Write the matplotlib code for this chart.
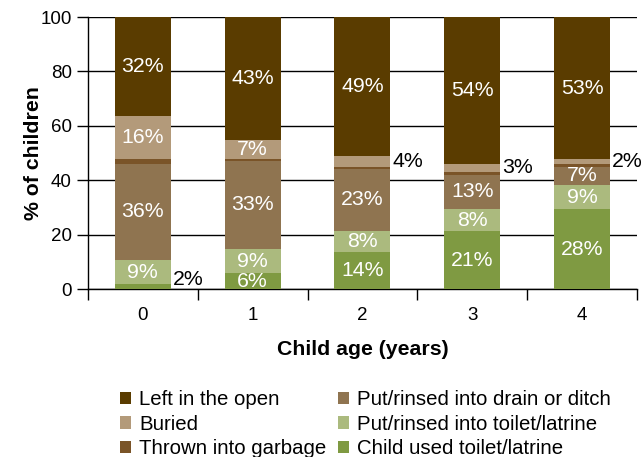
import matplotlib.pyplot as plt
import numpy as np

plt.rcParams['font.family'] = ['Liberation Sans', 'DejaVu Sans']

ages = ['0', '1', '2', '3', '4']

##### segment heights (bottom to top), % of children
child_used = [1.8, 5.8, 13.6, 21.3, 29.4]
into_toilet = [8.9, 8.9, 7.7, 8.1, 8.8]
into_drain = [35.4, 32.4, 22.9, 12.6, 6.8]
garbage = [1.6, 0.6, 0.8, 1.0, 1.0]
buried = [15.8, 7.1, 3.9, 3.0, 1.7]
left_open = [36.5, 45.2, 51.1, 54.0, 52.3]

##### printed labels
child_lbl = ['2%', '6%', '14%', '21%', '28%']
toilet_lbl = ['9%', '9%', '8%', '8%', '9%']
drain_lbl = ['36%', '33%', '23%', '13%', '7%']
buried_lbl = ['16%', '7%', '4%', '3%', '2%']
open_lbl = ['32%', '43%', '49%', '54%', '53%']

series = [
    ('Child used toilet/latrine', child_used, '#7f9a42', child_lbl),
    ('Put/rinsed into toilet/latrine', into_toilet, '#abba7e', toilet_lbl),
    ('Put/rinsed into drain or ditch', into_drain, '#8f7450', drain_lbl),
    ('Thrown into garbage', garbage, '#7a5428', None),
    ('Buried', buried, '#b39a7a', buried_lbl),
    ('Left in the open', left_open, '#5a3c00', open_lbl),
]

# small segments labelled outside the bar: (series index, bar index) -> y
outside = {(0, 0): 3.5, (4, 2): None, (4, 3): None, (4, 4): None}

fig = plt.figure(figsize=(6.44, 4.57), dpi=100)
ax = fig.add_axes([0.1366, 0.3676, 0.8524, 0.5952])

x = np.arange(len(ages))
w = 0.51
fs = 15.3
bottom = np.zeros(len(ages))
bars = {}
for i, (name, vals, col, lbls) in enumerate(series):
    vals = np.array(vals)
    bars[name] = ax.bar(x, vals, w, bottom=bottom, color=col, zorder=3)
    if lbls is not None:
        for j in range(len(ages)):
            yc = bottom[j] + vals[j] / 2
            if (i, j) in outside:
                yy = outside[(i, j)] if outside[(i, j)] is not None else yc
                ax.text(x[j] + w / 2 + 0.02, yy, lbls[j], ha='left', va='center',
                        fontsize=fs, color='black', zorder=4)
            else:
                ax.text(x[j], yc, lbls[j], ha='center', va='center',
                        fontsize=fs, color='white', zorder=4)
    bottom += vals

ax.set_xlim(-0.5, 4.5)
ax.set_ylim(0, 100)
ax.set_yticks([0, 20, 40, 60, 80, 100])
ax.grid(axis='y', color='black', linewidth=1, zorder=0)
ax.set_xticks(x)
ax.set_xticklabels(ages)
ax.set_xticks(np.arange(-0.5, 5, 1), minor=True)
ax.tick_params(axis='x', which='major', length=0, labelsize=13.5, pad=13)
ax.tick_params(axis='x', which='minor', length=8, width=1)
ax.tick_params(axis='y', length=8, width=1, labelsize=13.5)
for s in ['top', 'right']:
    ax.spines[s].set_visible(False)
ax.spines['left'].set_linewidth(1)
ax.spines['bottom'].set_linewidth(1)

ax.set_xlabel('Child age (years)', fontsize=fs, fontweight='bold', labelpad=11.5)
ax.set_ylabel('% of children', fontsize=fs, fontweight='bold', labelpad=-1.5)

order = ['Left in the open', 'Buried', 'Thrown into garbage',
         'Put/rinsed into drain or ditch', 'Put/rinsed into toilet/latrine',
         'Child used toilet/latrine']
fig.legend([bars[n] for n in order], order, ncol=2, loc='upper left',
           bbox_to_anchor=(0.186, 0.146), frameon=False, fontsize=14.7,
           handlelength=0.55, handleheight=0.55, handletextpad=0.4,
           columnspacing=0.55, labelspacing=0.27, borderaxespad=0, borderpad=0)

plt.savefig('out.png', dpi=100)
